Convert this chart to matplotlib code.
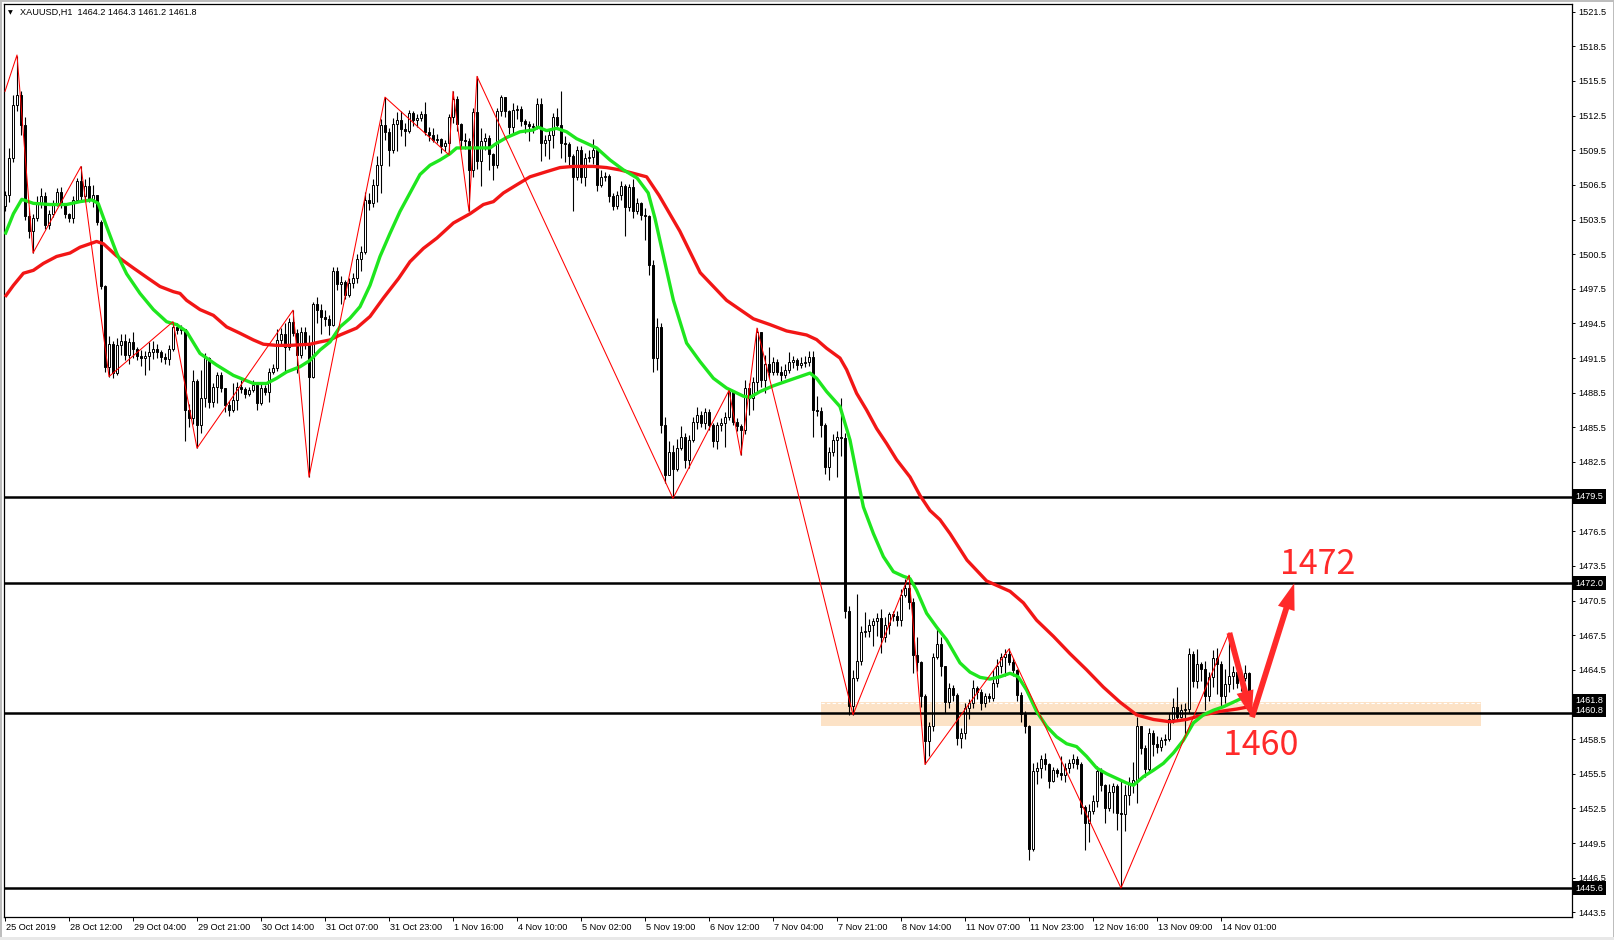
import matplotlib
matplotlib.use('Agg')
import matplotlib.pyplot as plt
import matplotlib.transforms as mtransforms
from matplotlib.patches import Rectangle

plt.rcParams['font.family'] = ['Liberation Sans', 'DejaVu Sans']

# ---------------- data ----------------
symbol_title = "XAUUSD,H1  1464.2 1464.3 1461.2 1461.8"
first_open = 1504.7
closes = [1505.6,1508.8,1513.4,1514.3,1511.7,1503.8,1502.5,1503.6,1504.9,1505.5,
          1503.0,1504.0,1504.8,1505.9,1504.9,1504.0,1503.6,1505.2,1506.8,1505.5,
          1506.4,1505.3,1505.6,1503.3,1497.7,1490.7,1492.7,1490.2,1492.6,1493.0,
          1491.8,1492.9,1492.3,1491.7,1491.5,1491.7,1492.0,1492.3,1492.0,1491.6,
          1491.4,1492.3,1494.2,1493.9,1494.0,1487.0,1486.3,1489.5,1485.7,1488.0,
          1491.5,1487.7,1489.0,1490.0,1488.9,1487.4,1487.0,1487.9,1489.0,1488.8,
          1488.4,1488.7,1489.2,1487.6,1488.9,1488.6,1490.3,1490.6,1493.1,1493.6,
          1492.5,1494.6,1493.7,1491.8,1493.8,1492.7,1489.9,1496.2,1495.7,1495.1,
          1494.9,1494.4,1499.0,1497.9,1498.1,1497.0,1498.0,1498.4,1500.1,1500.7,
          1505.2,1504.9,1506.5,1508.2,1511.7,1511.1,1509.5,1511.8,1512.1,1511.3,
          1511.2,1512.7,1512.1,1512.3,1512.6,1511.1,1510.8,1510.4,1510.5,1509.9,
          1510.1,1512.4,1513.9,1511.8,1510.4,1510.3,1507.8,1512.8,1508.6,1510.3,
          1510.6,1509.2,1508.2,1512.9,1514.1,1512.9,1511.5,1513.0,1513.1,1512.0,
          1511.8,1511.6,1511.5,1513.5,1510.1,1510.4,1510.8,1512.4,1511.7,1510.1,
          1510.0,1509.0,1507.2,1509.5,1507.2,1508.8,1508.9,1509.5,1506.5,1507.2,
          1507.3,1505.5,1504.7,1505.6,1506.4,1504.6,1506.3,1504.2,1504.9,1503.9,
          1503.8,1499.6,1491.5,1494.2,1485.7,1481.4,1483.4,1481.9,1483.7,1484.7,
          1482.7,1484.4,1486.0,1486.6,1485.9,1486.8,1485.7,1484.3,1485.7,1485.9,
          1486.4,1488.6,1486.0,1485.6,1485.3,1488.9,1488.0,1489.4,1493.8,1489.6,
          1491.0,1490.3,1491.2,1490.3,1490.0,1490.5,1491.2,1491.3,1490.9,1491.1,
          1491.2,1491.6,1487.0,1486.9,1485.7,1482.1,1483.4,1484.4,1484.7,1484.6,
          1469.6,1461.4,1463.8,1465.3,1467.8,1467.9,1468.4,1468.7,1469.0,1467.3,
          1468.4,1469.3,1469.2,1468.8,1471.0,1471.6,1470.4,1465.8,1465.2,1462.2,
          1458.3,1459.6,1465.6,1466.7,1464.8,1461.7,1462.9,1462.3,1458.6,1459.0,
          1461.2,1461.6,1462.9,1462.6,1461.6,1462.2,1462.1,1463.4,1464.8,1465.6,
          1465.9,1465.2,1464.5,1462.3,1460.7,1459.6,1449.0,1455.7,1456.0,1456.8,
          1456.3,1454.9,1455.8,1455.6,1455.4,1456.0,1456.4,1456.8,1456.3,1452.6,
          1451.2,1452.3,1453.1,1455.7,1454.5,1452.5,1453.9,1454.4,1452.1,1452.0,
          1453.7,1454.7,1455.0,1459.6,1457.7,1455.9,1459.0,1458.1,1457.8,1458.4,
          1458.5,1460.2,1461.3,1460.4,1461.0,1461.1,1465.9,1463.5,1465.0,1464.6,
          1462.2,1463.9,1465.5,1465.0,1462.2,1463.3,1464.0,1464.3,1463.4,1463.8,
          1464.2,1461.8]
highs = [1506.0,1509.7,1514.3,1517.7,1514.6,1512.4,1504.5,1504.0,1505.5,1506.2,
         1505.9,1504.3,1505.2,1506.2,1506.3,1504.9,1504.1,1505.5,1507.1,1508.1,
         1507.0,1507.2,1506.5,1505.6,1503.5,1497.8,1493.4,1493.0,1493.2,1493.6,
         1493.6,1493.2,1493.8,1492.5,1492.2,1492.1,1492.9,1493.0,1492.7,1492.2,
         1491.9,1492.6,1494.65,1494.5,1494.4,1494.0,1487.5,1490.5,1489.7,1490.5,
         1491.9,1491.6,1489.3,1490.3,1490.3,1488.8,1487.8,1489.3,1489.4,1489.6,
         1489.0,1489.0,1489.6,1489.4,1489.3,1489.2,1490.6,1491.0,1494.0,1494.1,
         1494.5,1495.0,1495.65,1494.0,1494.2,1494.2,1493.5,1496.4,1496.8,1496.2,
         1495.7,1495.2,1499.4,1499.4,1498.6,1498.3,1498.4,1498.9,1500.5,1501.2,
         1505.9,1505.8,1507.0,1509.0,1512.2,1514.1,1511.4,1512.3,1512.8,1512.9,
         1511.9,1513.0,1512.9,1512.6,1512.9,1513.7,1511.5,1511.4,1510.9,1510.6,
         1510.4,1512.6,1514.6,1514.2,1511.9,1511.0,1510.6,1513.2,1515.9,1511.4,
         1511.0,1510.8,1509.3,1513.2,1514.3,1514.0,1513.0,1513.6,1513.4,1513.3,
         1512.2,1512.0,1511.9,1514.0,1514.0,1510.8,1511.3,1512.7,1513.2,1514.6,
         1510.7,1510.2,1509.2,1509.9,1509.9,1509.3,1509.5,1510.5,1509.8,1507.8,
         1507.6,1507.4,1505.8,1506.0,1506.8,1506.6,1506.6,1507.0,1505.4,1505.0,
         1504.5,1503.9,1500.0,1495.0,1494.5,1486.4,1484.3,1484.0,1484.5,1485.6,
         1485.0,1484.8,1486.4,1487.3,1486.9,1487.2,1487.1,1485.9,1486.0,1486.3,
         1486.8,1488.9,1488.5,1486.3,1485.8,1489.6,1489.3,1489.9,1494.1,1493.0,
         1491.8,1492.5,1491.6,1491.4,1490.8,1491.0,1492.0,1491.7,1491.5,1491.6,
         1491.7,1492.1,1492.1,1488.2,1487.3,1485.9,1483.8,1484.9,1485.2,1488.0,
         1485.0,1470.0,1464.5,1471.1,1468.3,1469.5,1468.9,1469.0,1469.4,1469.8,
         1469.1,1469.5,1469.6,1469.6,1471.5,1472.4,1472.7,1470.7,1467.3,1465.3,
         1462.4,1460.0,1466.0,1468.2,1467.3,1464.8,1463.4,1463.2,1462.5,1459.5,
         1461.6,1462.0,1463.6,1463.1,1462.8,1462.5,1462.5,1464.5,1465.4,1466.0,
         1466.3,1466.4,1465.5,1464.6,1462.6,1460.9,1459.7,1456.4,1456.5,1457.1,
         1457.3,1456.4,1456.1,1456.0,1457.0,1456.4,1456.8,1457.2,1457.0,1456.5,
         1452.8,1452.9,1453.7,1456.2,1456.0,1454.6,1454.6,1454.7,1454.6,1455.0,
         1454.5,1455.2,1456.5,1460.4,1459.4,1458.0,1459.5,1459.3,1458.8,1458.7,
         1458.9,1460.8,1462.1,1463.0,1461.5,1461.6,1466.4,1466.1,1466.3,1465.2,
         1465.3,1464.3,1466.2,1466.4,1465.3,1464.6,1467.7,1464.8,1464.5,1464.6,
         1464.9,1464.3]
lows = [1504.2,1505.0,1508.5,1512.9,1510.8,1503.5,1501.9,1500.6,1503.4,1504.5,
        1502.7,1502.7,1503.7,1504.7,1504.5,1503.6,1503.3,1503.2,1505.0,1505.2,
        1505.3,1505.0,1504.6,1503.0,1497.5,1490.3,1489.9,1489.8,1490.0,1491.8,
        1491.3,1491.0,1491.5,1491.3,1490.8,1490.0,1490.5,1491.4,1491.5,1491.2,
        1491.0,1490.9,1492.1,1493.6,1493.6,1484.3,1485.5,1485.8,1483.7,1485.0,
        1487.3,1487.2,1487.3,1487.6,1488.6,1486.8,1486.5,1486.8,1487.0,1488.5,
        1488.0,1488.2,1488.6,1487.0,1487.4,1488.3,1487.7,1490.1,1490.4,1492.6,
        1490.2,1492.2,1493.4,1490.2,1491.5,1492.3,1481.2,1489.8,1494.5,1493.6,
        1494.3,1493.5,1494.3,1497.4,1496.2,1496.6,1496.8,1497.6,1498.0,1499.0,
        1500.5,1504.3,1504.6,1505.0,1505.8,1510.4,1508.1,1509.3,1509.4,1510.7,
        1509.9,1511.0,1511.6,1511.5,1512.0,1510.8,1510.3,1510.2,1510.1,1509.3,
        1509.4,1509.1,1511.9,1511.2,1509.6,1509.6,1504.2,1507.2,1507.9,1506.4,
        1509.5,1507.8,1506.9,1508.0,1512.5,1512.4,1510.9,1511.0,1512.2,1511.6,
        1511.0,1510.3,1511.0,1511.3,1508.6,1509.0,1508.7,1509.7,1511.3,1508.8,
        1508.5,1508.2,1504.2,1506.9,1506.7,1506.4,1508.5,1508.3,1506.0,1506.3,
        1506.8,1505.0,1504.3,1504.4,1505.2,1502.1,1504.2,1503.6,1504.0,1503.5,
        1501.7,1498.7,1490.3,1490.5,1485.0,1480.7,1481.5,1479.35,1481.7,1483.5,
        1482.0,1482.0,1484.2,1485.4,1485.5,1485.4,1485.3,1483.8,1483.6,1485.2,
        1483.8,1486.1,1485.7,1485.2,1483.1,1484.9,1486.6,1487.0,1488.5,1489.0,
        1488.5,1489.8,1490.0,1490.0,1489.5,1489.8,1490.2,1490.6,1490.5,1490.6,
        1490.7,1490.8,1484.7,1486.5,1484.7,1481.5,1480.9,1483.0,1481.2,1483.0,
        1469.0,1460.6,1460.6,1463.5,1464.9,1467.3,1467.3,1466.6,1467.4,1466.0,
        1466.9,1467.6,1468.7,1468.3,1468.3,1470.8,1469.8,1464.2,1464.4,1461.3,
        1456.3,1457.0,1459.2,1465.4,1464.0,1460.8,1461.2,1461.8,1458.0,1457.7,
        1458.5,1460.2,1461.2,1462.0,1461.0,1461.3,1461.7,1461.8,1463.0,1464.2,
        1464.0,1464.9,1464.0,1461.8,1460.0,1459.0,1448.0,1448.8,1454.6,1455.1,
        1455.8,1454.3,1454.8,1455.2,1455.0,1454.8,1455.6,1456.0,1455.9,1452.0,
        1448.9,1449.6,1452.0,1452.6,1454.0,1451.2,1452.3,1452.1,1450.6,1445.6,
        1450.5,1452.8,1453.8,1453.0,1457.2,1455.2,1455.6,1457.0,1457.3,1457.5,
        1458.0,1458.3,1459.9,1460.1,1460.3,1458.7,1460.8,1463.0,1462.9,1463.5,
        1461.0,1461.8,1463.0,1462.4,1461.3,1461.6,1462.6,1462.8,1462.9,1462.7,
        1463.5,1461.2]

# fast moving average (green) sampled at bar index / value
ma_fast_idx = [0,2.1,4.2,7.1,11.25,15.4,18.75,21.7,23.3,25.4,
               27.9,30.4,33.75,37.1,40.4,42.9,45.4,48.75,52.9,57.1,
               62.1,65.4,67.9,70.4,73.75,76.25,78.75,81.25,83.75,86.25,
               88.75,91.25,93.75,96.25,98.75,101.25,103.75,106.25,108.75,111.25,
               112.9,116.25,118.75,121.25,122.9,125.4,128.75,132.1,133.3,135.4,
               137.9,140.4,142.9,145.4,147.9,151.25,154.6,158,160.8,162.5,
               164.5,167.1,170.4,173.75,177.1,180.4,184.6,186.25,188.75,192.1,
               195.4,198.75,201.25,202.9,205.4,208.75,211.25,212.9,214.6,217.1,
               219.6,222.1,224.6,226.25,227.9,230.4,232.9,235.4,238.75,241.25,
               243.75,246.25,248.75,251.25,253.3,255.4,257.9,260.4,262.9,265.4,
               267.9,270.4,272.9,275.4,277.9,280.4,282.1,284.6,287.1,289.6,
               292.1,294.6,297.1,299.6,302.1,304.6,307.1,309.6,311]
ma_fast_val = [1502.2,1504.0,1505.25,1504.9,1504.8,1504.8,1505.05,1505.2,1504.9,1502.9,
               1500.6,1498.8,1497.1,1495.7,1494.65,1494.4,1493.8,1491.9,1490.9,1490.0,
               1489.3,1489.3,1489.75,1490.3,1490.75,1491.3,1492.2,1492.9,1494.2,1494.95,
               1495.95,1497.8,1500.3,1502.3,1504.2,1505.8,1507.4,1508.2,1508.66,1509.2,
               1509.7,1509.7,1509.7,1509.7,1510.1,1510.6,1511.1,1511.26,1511.5,1511.2,
               1511.4,1511.1,1510.5,1510.1,1509.7,1508.66,1507.8,1507.1,1505.8,1503.6,
               1500.5,1496.5,1492.8,1491.2,1489.75,1488.9,1488.2,1488.1,1488.6,1489.1,
               1489.5,1489.9,1490.2,1489.75,1488.6,1487.3,1484.4,1481.5,1478.6,1476.3,
               1474.3,1473.0,1472.6,1472.4,1471.4,1469.4,1468.2,1467.1,1465.1,1464.3,
               1463.85,1463.7,1463.9,1464.2,1463.9,1462.75,1460.9,1459.6,1458.7,1458.1,
               1457.85,1457.0,1456.0,1455.5,1455.1,1454.7,1454.5,1455.25,1455.8,1456.4,
               1457.3,1458.4,1459.9,1460.6,1461.0,1461.3,1461.7,1462.1,1462.2]

# slow moving average (red)
ma_slow_idx = [0,2.1,4.6,7.1,9.6,12.9,16.25,18.75,21.25,22.9,
               24.6,27.9,32.1,35.4,38.75,42.1,43.75,45.4,48.75,52.1,
               55.4,58.75,62.1,64.6,67.9,71.25,76.25,78.75,81.25,83.75,
               87.9,91.25,94.6,98.4,101.25,104.6,108,112.1,116.25,119.6,
               122.1,124.6,127.9,131.25,135.4,138.75,142.1,147.1,150.4,153.75,
               157.1,160.4,163.5,168.7,173.8,180.4,183.75,187.1,191.25,195.4,
               200.4,202.9,205.4,208.75,210.4,212.9,215.4,217.9,220.4,222.9,
               226.25,228.75,231.25,233.75,236.25,240.5,245.4,251.25,254.6,257.9,
               262.1,266.25,270.4,274.6,278.75,282.9,287.1,291.25,295.4,299.6,
               303.75,307.9,311]
ma_slow_val = [1496.8,1497.8,1498.85,1499.1,1499.7,1500.3,1500.6,1501.1,1501.4,1501.6,
               1501.4,1500.35,1499.3,1498.5,1497.7,1497.25,1497.1,1496.5,1495.7,1495.2,
               1494.2,1493.65,1493.07,1492.7,1492.6,1492.6,1492.7,1492.9,1493.07,1493.5,
               1494.1,1495.1,1496.7,1498.4,1499.85,1501.0,1501.9,1503.2,1504.0,1504.8,
               1505.05,1505.8,1506.5,1507.2,1507.65,1508.0,1508.1,1508.1,1508.0,1507.8,
               1507.5,1507.2,1505.6,1502.5,1498.9,1496.5,1495.7,1494.9,1494.4,1493.85,
               1493.5,1493.1,1492.35,1491.5,1490.5,1488.45,1487.0,1485.4,1484.1,1482.7,
               1481.2,1479.6,1478.3,1477.5,1476.3,1474.0,1472.2,1471.3,1470.3,1468.8,
               1467.4,1465.9,1464.5,1463.0,1461.7,1460.6,1460.2,1460.0,1460.2,1460.6,
               1460.9,1461.1,1461.3]

# zigzag pivots
zz_idx = [0,3,7,19,26,42,48,72,76,95,111,112,116,118,167,181,184,188,212,226,230,251,279,306]
zz_val = [1514.6,1517.75,1500.6,1508.1,1489.9,1494.65,1483.7,1495.65,1481.2,1514.1,
          1509.1,1514.6,1504.2,1515.9,1479.35,1488.7,1483.1,1494.1,1460.6,1472.7,
          1456.3,1466.3,1445.6,1467.7]

# horizontal levels
levels = [1479.5, 1472.0, 1460.8, 1445.6]
bid_price = 1461.8

# support zone
zone_start, zone_end = 204, 369
zone_low, zone_high = 1459.65, 1461.75

# analyst arrows (bar index, price)
arrow_down = [(306.1, 1467.7), (311.7, 1460.4)]
arrow_up = [(311.75, 1460.4), (322.3, 1472.0)]
text_up = ("1472", 328.1, 1472.8)
text_down = ("1460", 314.0, 1457.1)

xtick_idx = [0,16,32,48,64,80,96,112,128,144,160,176,192,208,224,240,256,272,288,304]
xtick_labels = ['25 Oct 2019','28 Oct 12:00','29 Oct 04:00','29 Oct 21:00','30 Oct 14:00',
                '31 Oct 07:00','31 Oct 23:00','1 Nov 16:00','4 Nov 10:00','5 Nov 02:00',
                '5 Nov 19:00','6 Nov 12:00','7 Nov 04:00','7 Nov 21:00','8 Nov 14:00',
                '11 Nov 07:00','11 Nov 23:00','12 Nov 16:00','13 Nov 09:00','14 Nov 01:00']
ytick_vals = [1521.5,1518.5,1515.5,1512.5,1509.5,1506.5,1503.5,1500.5,1497.5,1494.5,
              1491.5,1488.5,1485.5,1482.5,1479.5,1476.5,1473.5,1470.5,1467.5,1464.5,
              1461.5,1458.5,1455.5,1452.5,1449.5,1446.5,1443.5]
# tick labels hidden behind the boxed level labels
ytick_hidden = [1479.5, 1461.5]

# ---------------- figure ----------------
W, H = 1615, 940
fig = plt.figure(figsize=(W / 100, H / 100), dpi=100)
fig.patch.set_facecolor('white')

# plot frame in pixels
PL, PR, PT, PB = 4, 1572, 4, 917
ax = fig.add_axes([PL / W, 1 - PB / H, (PR - PL) / W, (PB - PT) / H])
ax.set_facecolor('white')

px_per_bar = 4.0
x0_px = 5.0
px_per_unit = 11.546
ref_price, ref_y = 1521.5, 11.7
ax.set_xlim((PL - x0_px) / px_per_bar, (PR - x0_px) / px_per_bar)
ax.set_ylim(ref_price - (PB - ref_y) / px_per_unit, ref_price + (ref_y - PT) / px_per_unit)

# support band
ax.add_patch(Rectangle((zone_start, zone_low), zone_end - zone_start, zone_high - zone_low,
                       facecolor='#FCE2C6', edgecolor='none', zorder=1))
ax.plot([zone_start, zone_end], [zone_high - 0.12, zone_high - 0.12], color='white',
        lw=0.8, ls=(0, (3, 2)), zorder=1.1)

# candles
opens = [first_open] + closes[:-1]
xs = list(range(len(closes)))
ax.vlines(xs, lows, highs, color='black', lw=0.8, zorder=2)
bottoms = [min(o, c) for o, c in zip(opens, closes)]
heights = [max(abs(c - o), 0.06) for o, c in zip(opens, closes)]
fills = ['black' if c < o else 'white' for o, c in zip(opens, closes)]
ax.bar(xs, heights, bottom=bottoms, width=0.55, color=fills, edgecolor='black',
       linewidth=0.7, zorder=2.2)

# horizontal levels
for lv in levels:
    ax.axhline(lv, color='black', lw=1.8, zorder=3)

# moving averages
ax.plot(ma_slow_idx, ma_slow_val, color='#F21616', lw=2.4, zorder=4, solid_capstyle='butt')
ax.plot(ma_fast_idx, ma_fast_val, color='#1EE61E', lw=2.4, zorder=4.1, solid_capstyle='butt')

# zigzag
ax.plot(zz_idx, zz_val, color='#FF0000', lw=0.75, zorder=5)

# arrows
red = '#FF2A2A'
for (a, b) in (arrow_down, arrow_up):
    ax.annotate('', xy=b, xytext=a,
                arrowprops=dict(arrowstyle='simple,head_length=1.9,head_width=1.25,tail_width=0.42',
                                color=red, lw=0, shrinkA=0, shrinkB=0, mutation_scale=10),
                zorder=6, annotation_clip=False)

for s, xi, yv in (text_up, text_down):
    ax.text(xi, yv, s, color=red, fontsize=24.5, ha='center', va='baseline',
            family=['Noto Sans CJK SC', 'DejaVu Sans'], zorder=7)

# axes styling
for sp in ax.spines.values():
    sp.set_color('black')
    sp.set_linewidth(0.9)

ax.yaxis.tick_right()
ax.set_yticks(ytick_vals)
ax.set_yticklabels(['' if v in ytick_hidden else f'{v:.1f}' for v in ytick_vals])
ax.tick_params(axis='y', direction='out', length=2.5, width=0.7, pad=2,
               labelsize=6.6, colors='black')
ax.set_xticks(xtick_idx)
ax.set_xticklabels(xtick_labels)
ax.tick_params(axis='x', direction='out', length=3, width=0.7, pad=1.5,
               labelsize=6.6, colors='black')
offset = mtransforms.ScaledTranslation(1.5 / 100, 0, fig.dpi_scale_trans)
for lbl in ax.get_xticklabels():
    lbl.set_horizontalalignment('left')
    lbl.set_transform(lbl.get_transform() + offset)

# boxed price labels on the right axis
trans = mtransforms.blended_transform_factory(ax.transAxes, ax.transData)
box_labels = [(1479.5, '1479.5'), (1472.0, '1472.0'), (bid_price, '1461.8'),
              (1460.8, '1460.8'), (1445.6, '1445.6')]
for val, s in box_labels:
    yv = val
    if s == '1460.8':
        yv = val + 0.2
    ax.text(1.0022, yv, s, transform=trans, color='white', fontsize=6.6,
            ha='left', va='center', clip_on=False, zorder=20,
            bbox=dict(boxstyle='square,pad=0.3', facecolor='black', edgecolor='none'))

# title
fig.text(20 / W, 1 - 12.5 / H, symbol_title, fontsize=6.6, color='black', ha='left', va='center')
fig.text(8 / W, 1 - 12.5 / H, '\u25BC', fontsize=4.5, color='black', ha='left', va='center',
         family='DejaVu Sans')

# window borders
border = '#BDBDBD'
fig.add_artist(Rectangle((0, 0), 2 / W, 1, transform=fig.transFigure, facecolor=border, edgecolor='none'))
fig.add_artist(Rectangle((1 - 2 / W, 0), 2 / W, 1, transform=fig.transFigure, facecolor=border, edgecolor='none'))
fig.add_artist(Rectangle((0, 1 - 2 / H), 1, 2 / H, transform=fig.transFigure, facecolor=border, edgecolor='none'))
fig.add_artist(Rectangle((0, 0), 1, 3 / H, transform=fig.transFigure, facecolor='#E8E8E8', edgecolor='none'))

fig.savefig('out.png', dpi=100, facecolor=fig.get_facecolor())
